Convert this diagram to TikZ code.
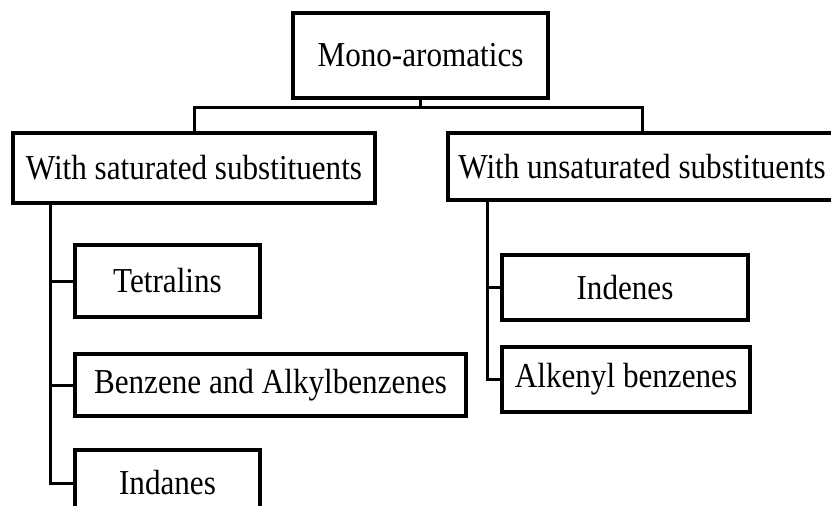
\documentclass[tikz,border=0pt]{standalone}
\usepackage{fontspec}
\setmainfont{Liberation Serif}[FakeStretch=0.89]
\usepackage{tikz}
\usetikzlibrary{positioning}

\begin{document}
\begin{tikzpicture}
    [
    x=1pt,y=-1pt,
    box/.style={rectangle,draw,line width=3.5pt,inner sep=0pt,font=\fontsize{35}{40}\selectfont},
    link/.style={line width=3pt},
    ]
    \useasboundingbox (0,0) rectangle (831,506);
    \node (mono) at (420.5,55.5) [box,minimum width=255,minimum height=85] {Mono-aromatics};
    \node (sat) at (194,168) [box,minimum width=362,minimum height=70] {With saturated substituents};
    \node (unsat) at (642,166.5) [box,minimum width=388,minimum height=67] {With unsaturated substituents};

    \node (tetra) at (167.5,281) [box,minimum width=185,minimum height=72] {Tetralins};
    \node (benz) at (270.5,385) [box,minimum width=391,minimum height=62] {Benzene and Alkylbenzenes};
    \node (indan) at (167.5,483) [box,minimum width=185,minimum height=66] {Indanes};

    \node (inden) at (625,287.5) [box,minimum width=246,minimum height=65] {Indenes};
    \node (alken) at (626,379.5) [box,minimum width=248,minimum height=65] {Alkenyl benzenes};

    \draw [link] (mono.south) -- ++(0,8) -| (sat.north);
    \draw [link] (mono.south) -- ++(0,8) -| (unsat.north);

    \coordinate (ls) at (50,204);
    \coordinate (rs) at (487,201);
    \draw [link] (ls) |- (tetra.west);
    \draw [link] (ls) |- (benz.west);
    \draw [link] (ls) |- (indan.west);
    \draw [link] (rs) |- (inden.west);
    \draw [link] (rs) |- (alken.west);
  \end{tikzpicture}
\end{document}
